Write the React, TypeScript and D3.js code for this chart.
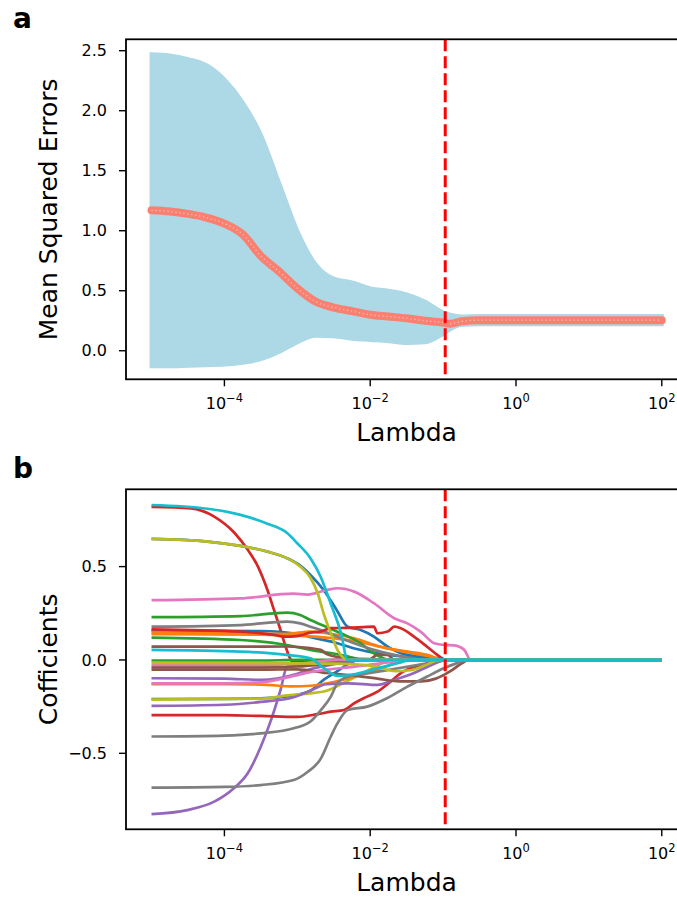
import React from 'react';
import * as d3 from 'd3';

// ---- panel a : cross-validated MSE along the lasso path ----
const MSE_LOG_LAMBDA = [-5, -4.75, -4.5, -4.25, -4, -3.75, -3.5, -3.25, -3, -2.75, -2.5, -2.25, -2, -1.75, -1.5, -1.25, -1, -0.9, -0.75, -0.5, 0, 1, 2];
const MSE_MEAN = [1.17, 1.16, 1.14, 1.11, 1.06, 0.97, 0.79, 0.66, 0.52, 0.41, 0.36, 0.33, 0.30, 0.285, 0.27, 0.25, 0.235, 0.225, 0.245, 0.255, 0.255, 0.255, 0.255];
const MSE_UPPER = [2.47, 2.46, 2.43, 2.38, 2.26, 2.07, 1.80, 1.40, 1.00, 0.72, 0.60, 0.57, 0.52, 0.50, 0.47, 0.41, 0.32, 0.30, 0.285, 0.29, 0.29, 0.29, 0.29];
const MSE_LOWER = [-0.13, -0.13, -0.125, -0.12, -0.115, -0.10, -0.07, -0.01, 0.07, 0.125, 0.12, 0.10, 0.09, 0.08, 0.065, 0.07, 0.14, 0.18, 0.215, 0.22, 0.22, 0.22, 0.22];

const BEST_LAMBDA = 0.107;

const X_TICKS = [1e-4, 1e-2, 1, 1e2];
const X_TICK_EXP = ['\u22124', '\u22122', '0', '2'];
const MSE_Y_TICKS = [0, 0.5, 1.0, 1.5, 2.0, 2.5];
const COEF_Y_TICKS = [-0.5, 0, 0.5];

// ---- panel b : coefficient paths, [log10(lambda), coefficient] ----
type P = [number, number][];
const COEF_PATHS: P[] = [
  // red, falls early
  [[-5, 0.82], [-4.46, 0.812], [-4.14, 0.768], [-3.86, 0.68], [-3.68, 0.59], [-3.54, 0.5], [-3.41, 0.375], [-3.32, 0.268], [-3.23, 0.16], [-3.16, 0.071], [-3.11, 0.018], [-3.06, -0.012], [-2.8, -0.01], [-2.4, 0], [2, 0]],
  // purple, rises early
  [[-5, -0.826], [-4.51, -0.804], [-4.14, -0.759], [-3.87, -0.687], [-3.68, -0.607], [-3.5, -0.464], [-3.36, -0.321], [-3.23, -0.16], [-3.14, -0.035], [-3.0, -0.025], [-2.6, -0.012], [-2.3, 0], [2, 0]],
  // blue under olive
  [[-5, 0.648], [-4.23, 0.634], [-3.78, 0.611], [-3.41, 0.58], [-3.14, 0.545], [-2.96, 0.505], [-2.82, 0.455], [-2.64, 0.375], [-2.46, 0.268], [-2.31, 0.178], [-2.13, 0.16], [-1.95, 0.125], [-1.76, 0.071], [-1.58, 0.036], [-1.31, 0.018], [-1.0, 0], [2, 0]],
  // blue 0.16
  [[-5, 0.158], [-3.5, 0.155], [-3.0, 0.14], [-2.8, 0.12], [-2.5, 0.095], [-2.2, 0.06], [-1.9, 0.035], [-1.6, 0.02], [-1.3, 0.01], [-1.05, 0], [2, 0]],
  // blue -0.21
  [[-5, -0.209], [-4, -0.208], [-3.5, -0.205], [-3.05, -0.19], [-2.82, -0.165], [-2.64, -0.107], [-2.46, -0.063], [-2.36, -0.036], [-2.25, -0.01], [-2.15, 0], [2, 0]],
  // olive -0.21
  [[-5, -0.212], [-3.5, -0.207], [-3.14, -0.19], [-2.86, -0.18], [-2.6, -0.165], [-2.4, -0.13], [-2.2, -0.09], [-1.95, -0.04], [-1.7, 0], [2, 0]],
  // orange 0.146
  [[-5, 0.146], [-3.78, 0.143], [-3.14, 0.14], [-2.82, 0.152], [-2.59, 0.143], [-2.22, 0.116], [-1.86, 0.071], [-1.49, 0.045], [-1.22, 0.027], [-0.98, 0], [2, 0]],
  // orange 0.138
  [[-5, 0.138], [-3.5, 0.135], [-3.0, 0.13], [-2.6, 0.12], [-2.2, 0.1], [-1.8, 0.065], [-1.4, 0.035], [-1.1, 0.012], [-0.92, 0], [2, 0]],
  // orange -0.13
  [[-5, -0.129], [-4, -0.13], [-3.5, -0.132], [-3.05, -0.142], [-2.82, -0.138], [-2.5, -0.118], [-2.22, -0.09], [-1.95, -0.058], [-1.76, -0.032], [-1.58, 0], [2, 0]],
  // green 0.23
  [[-5, 0.229], [-3.78, 0.235], [-3.14, 0.253], [-2.96, 0.241], [-2.82, 0.214], [-2.68, 0.19], [-2.4, 0.143], [-2.13, 0.089], [-1.95, 0.036], [-1.82, 0.009], [-1.75, 0], [2, 0]],
  // green 0.12
  [[-5, 0.12], [-3.78, 0.107], [-3.14, 0.08], [-2.82, 0.054], [-2.59, 0.04], [-2.31, 0.02], [-2.1, 0], [2, 0]],
  // green 0
  [[-5, -0.003], [-3.5, -0.003], [-3, 0], [2, 0]],
  // red -0.30
  [[-5, -0.295], [-4, -0.296], [-3.5, -0.3], [-3.0, -0.305], [-2.72, -0.29], [-2.54, -0.277], [-2.36, -0.268], [-2.22, -0.232], [-2.09, -0.205], [-1.9, -0.17], [-1.72, -0.116], [-1.58, -0.071], [-1.45, -0.045], [-1.27, -0.027], [-1.1, 0], [2, 0]],
  // purple -0.10
  [[-5, -0.098], [-4, -0.1], [-3.5, -0.107], [-3.05, -0.08], [-2.86, -0.054], [-2.6, -0.03], [-2.3, -0.01], [-2.1, 0], [2, 0]],
  // purple -0.25
  [[-5, -0.246], [-4, -0.24], [-3.5, -0.225], [-3.05, -0.2], [-2.82, -0.165], [-2.6, -0.13], [-2.3, -0.125], [-1.9, -0.134], [-1.67, -0.107], [-1.4, -0.07], [-1.15, -0.025], [-0.96, 0], [2, 0]],
  // brown 0.07
  [[-5, 0.071], [-3.78, 0.071], [-3.14, 0.072], [-2.82, 0.063], [-2.68, 0.054], [-2.59, 0.03], [-2.31, 0.009], [-2.0, 0.005], [-1.9, 0.028], [-1.76, 0.027], [-1.67, 0], [2, 0]],
  // brown -0.04
  [[-5, -0.04], [-3.5, -0.04], [-3.0, -0.035], [-2.6, -0.02], [-2.3, -0.005], [-2.1, 0], [2, 0]],
  // brown -0.05
  [[-5, -0.052], [-3.5, -0.052], [-3.0, -0.05], [-2.6, -0.07], [-2.2, -0.085], [-1.9, -0.1], [-1.6, -0.115], [-1.3, -0.115], [-1.1, -0.1], [-0.9, -0.06], [-0.75, -0.02], [-0.65, 0], [2, 0]],
  // pink 0.32
  [[-5, 0.32], [-3.78, 0.33], [-3.05, 0.355], [-2.86, 0.35], [-2.59, 0.375], [-2.45, 0.384], [-2.22, 0.366], [-1.95, 0.304], [-1.67, 0.223], [-1.49, 0.196], [-1.31, 0.152], [-1.12, 0.089], [-0.99, 0.08], [-0.85, 0.078], [-0.71, 0.054], [-0.62, 0], [2, 0]],
  // pink -0.03
  [[-5, -0.027], [-3.5, -0.027], [-3.0, -0.02], [-2.7, -0.008], [-2.5, 0], [2, 0]],
  // pink -0.125
  [[-5, -0.125], [-4, -0.125], [-3.5, -0.12], [-3.05, -0.085], [-2.82, -0.065], [-2.55, -0.05], [-2.3, -0.04], [-2.0, -0.025], [-1.7, -0.01], [-1.5, 0], [2, 0]],
  // gray 0.18
  [[-5, 0.178], [-3.78, 0.187], [-3.14, 0.205], [-2.96, 0.196], [-2.82, 0.178], [-2.68, 0.16], [-2.5, 0.132], [-2.22, 0.089], [-1.95, 0.054], [-1.67, 0.027], [-1.4, 0.008], [-1.2, 0], [2, 0]],
  // gray -0.41
  [[-5, -0.41], [-4, -0.405], [-3.5, -0.393], [-3.05, -0.366], [-2.82, -0.33], [-2.68, -0.27], [-2.54, -0.196], [-2.45, -0.125], [-2.31, -0.09], [-2.0, -0.07], [-1.7, -0.05], [-1.4, -0.03], [-1.1, -0.01], [-0.9, 0], [2, 0]],
  // gray -0.68
  [[-5, -0.684], [-4, -0.68], [-3.5, -0.67], [-3.05, -0.643], [-2.86, -0.6], [-2.68, -0.53], [-2.54, -0.41], [-2.45, -0.34], [-2.31, -0.268], [-2.04, -0.25], [-1.77, -0.205], [-1.49, -0.143], [-1.22, -0.089], [-0.99, -0.045], [-0.76, -0.009], [-0.7, 0], [2, 0]],
  // olive -0.02
  [[-5, -0.016], [-3, -0.018], [-2.5, -0.02], [-2.0, -0.03], [-1.65, -0.06], [-1.45, -0.055], [-1.25, -0.03], [-1.05, 0], [2, 0]],
  // red 0.16, jagged
  [[-5, 0.164], [-3.78, 0.152], [-3.32, 0.134], [-3.18, 0.125], [-3.0, 0.128], [-2.82, 0.146], [-2.68, 0.152], [-2.54, 0.17], [-2.31, 0.172], [-1.95, 0.178], [-1.9, 0.143], [-1.76, 0.152], [-1.67, 0.178], [-1.58, 0.17], [-1.4, 0.125], [-1.22, 0.071], [-1.08, 0.027], [-0.96, 0], [2, 0]],
  // olive 0.65
  [[-5, 0.648], [-4.23, 0.634], [-3.78, 0.611], [-3.41, 0.58], [-3.14, 0.545], [-2.96, 0.5], [-2.82, 0.44], [-2.72, 0.357], [-2.64, 0.25], [-2.54, 0.143], [-2.45, 0.054], [-2.36, 0.009], [-2.31, 0], [2, 0]],
  // cyan 0.05, dips below zero
  [[-5, 0.054], [-3.78, 0.045], [-3.14, 0.027], [-2.82, 0.009], [-2.68, -0.03], [-2.45, -0.085], [-2.2, -0.075], [-1.9, -0.045], [-1.6, -0.015], [-1.45, 0], [2, 0]],
  // cyan 0.83
  [[-5, 0.83], [-4.23, 0.81], [-3.78, 0.777], [-3.41, 0.73], [-3.14, 0.68], [-3.0, 0.625], [-2.82, 0.545], [-2.68, 0.446], [-2.54, 0.3], [-2.4, 0.143], [-2.31, 0], [2, 0]],
];
const COEF_COLORS = [
  '#d62728', '#9467bd', '#1f77b4', '#1f77b4', '#1f77b4', '#bcbd22', '#ff7f0e', '#ff7f0e', '#ff7f0e',
  '#2ca02c', '#2ca02c', '#2ca02c', '#d62728', '#9467bd', '#9467bd', '#8c564b', '#8c564b', '#8c564b',
  '#e377c2', '#e377c2', '#e377c2', '#7f7f7f', '#7f7f7f', '#7f7f7f', '#bcbd22', '#d62728', '#bcbd22',
  '#17becf', '#17becf',
];

const FONT = '"DejaVu Sans", sans-serif';
const LEFT = 126, RIGHT = 687.3;

const x = d3.scaleLog().domain([10 ** -5.35, 10 ** 2.35]).range([LEFT, RIGHT]);

function Panel({ top, bottom, yDomain, yTicks, ylabel, letter, children }: any) {
  const y = d3.scaleLinear().domain(yDomain).range([bottom, top]);
  return (
    <g>
      {children(y)}
      <line x1={x(BEST_LAMBDA)} x2={x(BEST_LAMBDA)} y1={top} y2={bottom}
        stroke="#ff0000" strokeWidth={3} strokeDasharray="12 5" />
      <rect x={LEFT} y={top} width={RIGHT - LEFT} height={bottom - top}
        fill="none" stroke="#000" strokeWidth={1.8} />
      {X_TICKS.map((t, i) => (
        <g key={t}>
          <line x1={x(t)} x2={x(t)} y1={bottom} y2={bottom + 7} stroke="#000" strokeWidth={1.4} />
          <text x={x(t)} y={bottom + 30} textAnchor="middle" fontFamily={FONT} fontSize={16} fill="#000">
            10<tspan fontSize={11.5} dy={-7}>{X_TICK_EXP[i]}</tspan>
          </text>
        </g>
      ))}
      {yTicks.map((t: number) => (
        <g key={t}>
          <line x1={LEFT - 7} x2={LEFT} y1={y(t)} y2={y(t)} stroke="#000" strokeWidth={1.4} />
          <text x={LEFT - 19} y={y(t)} dy="0.36em" textAnchor="end" fontFamily={FONT} fontSize={16} fill="#000">
            {t < 0 ? '\u2212' + Math.abs(t).toFixed(1) : t.toFixed(1)}
          </text>
        </g>
      ))}
      <text x={(LEFT + 677) / 2 + 5} y={bottom + 62} textAnchor="middle" fontFamily={FONT} fontSize={25} fill="#000">Lambda</text>
      <text transform={`translate(57,${(top + bottom) / 2}) rotate(-90)`} textAnchor="middle"
        fontFamily={FONT} fontSize={25} fill="#000">{ylabel}</text>
      <text x={13} y={top - 11} fontFamily={FONT} fontWeight="bold" fontSize={28} fill="#000">{letter}</text>
    </g>
  );
}

export default function App() {
  const msePoints = MSE_LOG_LAMBDA.map((l, i) => ({ l, m: MSE_MEAN[i], lo: MSE_LOWER[i], hi: MSE_UPPER[i] }));
  return (
    <svg width={677} height={898} style={{ position: 'absolute', left: 0, top: 0, background: '#fff' }}>
      <Panel top={39.3} bottom={379.3} yDomain={[-0.238, 2.595]} yTicks={MSE_Y_TICKS}
        ylabel="Mean Squared Errors" letter="a">
        {(y: any) => {
          const area = d3.area<any>().x(d => x(10 ** d.l)).y0(d => y(d.lo)).y1(d => y(d.hi)).curve(d3.curveMonotoneX);
          const line = d3.line<any>().x(d => x(10 ** d.l)).y(d => y(d.m)).curve(d3.curveMonotoneX);
          const dm = line(msePoints) || '';
          return (
            <g>
              <path d={area(msePoints) || ''} fill="#add8e6" stroke="#add8e6" strokeWidth={4} />
              <path d={dm} fill="none" stroke="#fa8072" strokeWidth={8} strokeLinecap="round" />
              <path d={dm} fill="none" stroke="#ffd3cb" strokeWidth={1.3} strokeDasharray="1.2 2.8" opacity={0.75} />
            </g>
          );
        }}
      </Panel>
      <Panel top={489.3} bottom={829.3} yDomain={[-0.907, 0.914]} yTicks={COEF_Y_TICKS}
        ylabel="Cofficients" letter="b">
        {(y: any) => {
          const line = d3.line<[number, number]>().x(d => x(10 ** d[0])).y(d => y(d[1])).curve(d3.curveMonotoneX);
          return (
            <g>
              {COEF_PATHS.map((p, i) => (
                <path key={i} d={line(p) || ''} fill="none" stroke={COEF_COLORS[i]} strokeWidth={2.7} />
              ))}
            </g>
          );
        }}
      </Panel>
    </svg>
  );
}
